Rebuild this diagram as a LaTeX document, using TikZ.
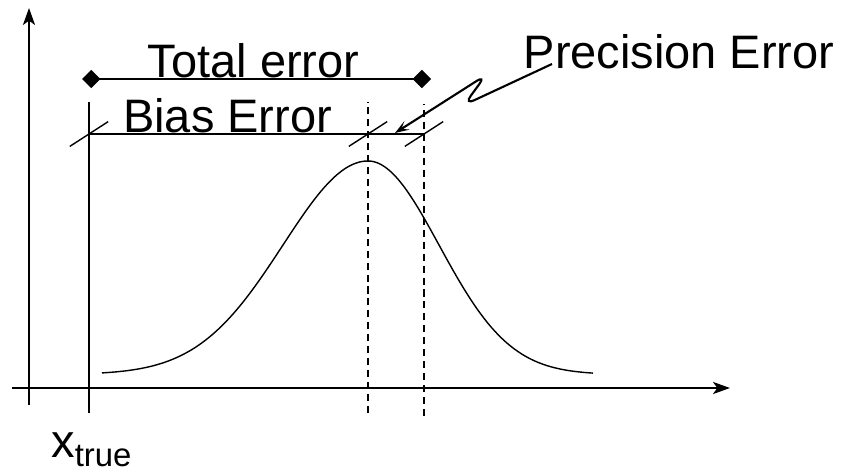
\documentclass[tikz,border=0pt]{standalone}
\usepackage{fontspec}
\setmainfont{Liberation Sans}
\usepackage{tikz}
\usetikzlibrary{arrows.meta, positioning, calc}
\tikzstyle{axisline} = [line width=1.9pt, -{Stealth[length=12pt, width=8.5pt, inset=3pt]}]
\tikzstyle{guide} = [line width=1pt]
\tikzstyle{dashguide} = [line width=1pt, dash pattern=on 5pt off 3.5pt]
\tikzstyle{errtext} = [inner sep=0pt, anchor=base, font=\fontsize{33.4}{40}\selectfont]
\tikzstyle{pointer} = [line width=1.5pt, rounded corners=8pt, -{Stealth[length=10pt, width=7pt, inset=4.5pt]}]

\begin{document}
\begin{tikzpicture}
    \useasboundingbox (0,0) rectangle (21.1,11.825);
    % axes
    \coordinate (ybot) at (0.725,1.7);
    \coordinate (ytop) at (0.725,11.625);
    \coordinate (xleft) at (0.3,2.125);
    \coordinate (xright) at (18.25,2.125);
    \draw [axisline] (ybot) -- (ytop);
    \draw [axisline] (xleft) -- (xright);

    % true value, mean and spread
    \coordinate (truebot) at (2.225,1.5);
    \coordinate (truetop) at (2.225,9.275);
    \coordinate (meanbot) at (9.2,1.5);
    \coordinate (meantop) at (9.2,9.275);
    \coordinate (sprbot) at (10.6,1.425);
    \coordinate (sprtop) at (10.6,9.225);
    \draw [guide] (truebot) -- (truetop);
    \draw [dashguide] (meanbot) -- (meantop);
    \draw [dashguide] (sprbot) -- (sprtop);

    % distribution
    \draw [guide, smooth, samples=70, domain=2.55:9.2] plot (\x, {2.4625+5.3375*exp(-((\x-9.2)^2)/(2*2.125^2))});
    \draw [guide, smooth, samples=70, domain=9.2:14.825] plot (\x, {2.4625+5.3375*exp(-((\x-9.2)^2)/(2*1.775^2))});

    % bias line with ticks
    \coordinate (b0) at (2.225,8.475);
    \coordinate (b1) at (9.2,8.475);
    \coordinate (b2) at (10.6,8.475);
    \draw [guide] (b0) -- (b2);
    \foreach \c in {b0, b1, b2} {
        \draw [guide] ($(\c)+(-0.48,-0.31)$) -- ($(\c)+(0.48,0.31)$);
    }

    % total error
    \coordinate (t0) at (2.05,9.85);
    \coordinate (t1) at (10.775,9.85);
    \draw [line width=1.7pt, {Diamond[length=13pt, width=13pt]}-{Diamond[length=13pt, width=13pt]}] (t0) -- (t1);

    % labels
    \node (total) [errtext] at (6.34,9.9) {Total error};
    \node (bias) [errtext] at (5.69,8.525) {Bias Error};
    \node (precision) [errtext] at (16.975,10.125) {Precision Error};
    \node (xtrue) [errtext, anchor=base west] at (1.275,0.4) {x\textsubscript{true}};

    % pointer to precision error
    \coordinate (pstart) at (13.8,10.225);
    \coordinate (zz1) at (11.6,9.2);
    \coordinate (zz2) at (12.15,9.95);
    \coordinate (ptip) at (9.875,8.5);
    \draw [pointer] (pstart) -- (zz1) -- (zz2) -- (ptip);
\end{tikzpicture}
\end{document}
